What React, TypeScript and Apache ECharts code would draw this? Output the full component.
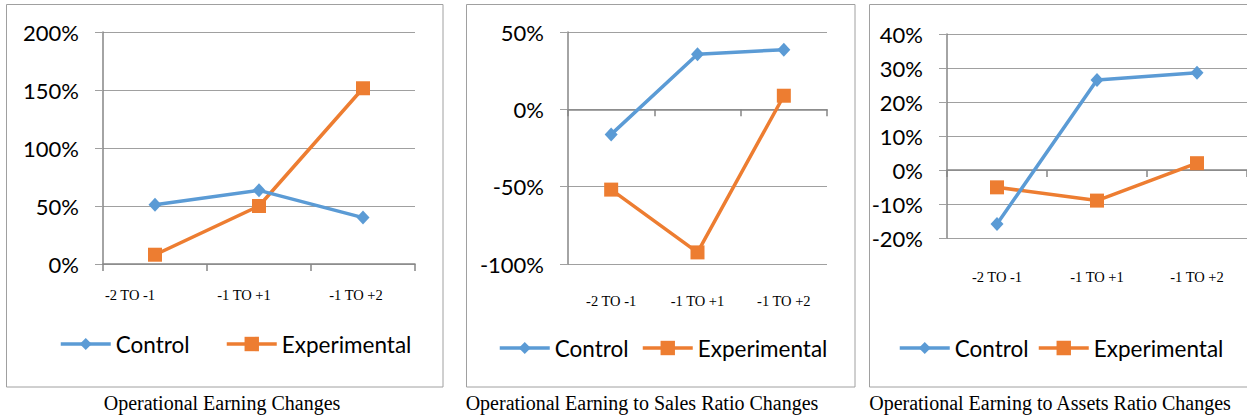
import React, { useEffect, useRef } from "react";
import * as echarts from "echarts";

const categories = ["-2 TO -1", "-1 TO +1", "-1 TO +2"];
const seriesNames = ["Control", "Experimental"];
const earningControl = [0.51, 0.635, 0.40];
const earningExperimental = [0.08, 0.50, 1.515];
const salesControl = [-0.162, 0.356, 0.386];
const salesExperimental = [-0.519, -0.925, 0.088];
const assetsControl = [-0.159, 0.265, 0.286];
const assetsExperimental = [-0.051, -0.09, 0.02];
const captions = [
  "Operational Earning Changes",
  "Operational Earning to Sales Ratio Changes",
  "Operational Earning to Assets Ratio Changes",
];
const yRanges = [
  { min: 0, max: 2, interval: 0.5 },
  { min: -1, max: 0.5, interval: 0.5 },
  { min: -0.2, max: 0.4, interval: 0.1 },
];

const BLUE = "#5b9bd5";
const ORANGE = "#ed7d31";
const GRID_COLOR = "#a0a0a0";
const AXIS_COLOR = "#868686";
const SANS = "Lato, 'Open Sans', sans-serif";
const SERIF = "'Liberation Serif', 'Times New Roman', serif";

export default function App() {
  const ref = useRef<HTMLDivElement>(null);
  useEffect(() => {
    if (!ref.current) return;
    const chart = echarts.init(ref.current, null, { renderer: "svg" });

    const grids = [
      { left: 103, top: 32, width: 312, height: 232 },
      { left: 568, top: 32, width: 259, height: 232 },
      { left: 947, top: 34, width: 300, height: 204 },
    ];
    const labelMargins = [23, 29, 31];
    const data = [
      [earningControl, earningExperimental],
      [salesControl, salesExperimental],
      [assetsControl, assetsExperimental],
    ];
    const legendPos = [
      [[59, 345], [225, 345]],
      [[498, 349], [641, 349]],
      [[898, 349], [1037, 349]],
    ];
    const captionX = [222, 642, 1050];
    const frames = [
      [6.5, 4.5, 436.5, 382.5],
      [466.5, 4.5, 388.5, 382.5],
      [869.5, 4.5, 390, 382.5],
    ];
    const p1Pad = [50, 30, 14];

    const xAxis: any[] = [];
    const yAxis: any[] = [];
    const series: any[] = [];
    const legend: any[] = [];
    const graphic: any[] = [];

    grids.forEach((g, gi) => {
      xAxis.push({
        type: "category",
        gridIndex: gi,
        data: categories,
        position: "bottom",
        axisLine: { show: false, onZero: false },
        axisTick: { show: false },
        axisLabel: {
          interval: 0,
          hideOverlap: false,
          margin: labelMargins[gi],
          color: "#000",
          fontFamily: SERIF,
          fontSize: 14.5,
          formatter:
            gi === 0
              ? (v: string, i: number) => `{c${i}|${v}}`
              : (v: string) => v,
          rich:
            gi === 0
              ? {
                  c0: { padding: [0, p1Pad[0], 0, 0], fontFamily: SERIF, fontSize: 14.5, color: "#000" },
                  c1: { padding: [0, p1Pad[1], 0, 0], fontFamily: SERIF, fontSize: 14.5, color: "#000" },
                  c2: { padding: [0, p1Pad[2], 0, 0], fontFamily: SERIF, fontSize: 14.5, color: "#000" },
                }
              : undefined,
        },
        splitLine: { show: false },
      });
      xAxis.push({
        type: "category",
        gridIndex: gi,
        data: categories,
        position: "bottom",
        axisLine: { show: true, onZero: true, lineStyle: { color: AXIS_COLOR, width: 1.5 } },
        axisTick: { show: true, length: 7, lineStyle: { color: AXIS_COLOR, width: 1.5 } },
        axisLabel: { show: false },
        splitLine: { show: false },
      });
      const r = yRanges[gi];
      yAxis.push({
        type: "value",
        gridIndex: gi,
        min: r.min,
        max: r.max,
        interval: r.interval,
        axisLine: { show: true, lineStyle: { color: AXIS_COLOR, width: 1.5 } },
        axisTick: { show: true, length: 8, lineStyle: { color: GRID_COLOR } },
        axisLabel: {
          margin: 24,
          color: "#000",
          fontFamily: SANS,
          fontSize: 22,
          formatter: (v: number) => `${Math.round(v * 100)}%`,
        },
        splitLine: { show: true, lineStyle: { color: GRID_COLOR, width: 1 } },
      });
      data[gi].forEach((vals, si) => {
        const c = si === 0 ? BLUE : ORANGE;
        series.push({
          type: "line",
          name: seriesNames[si],
          xAxisIndex: gi * 2,
          yAxisIndex: gi,
          data: vals,
          symbol: si === 0 ? "diamond" : "rect",
          symbolSize: si === 0 ? [13, 14] : 14,
          showSymbol: true,
          color: c,
          lineStyle: { color: c, width: 3.5 },
          itemStyle: { color: c },
          z: si === 0 ? 3 : 2,
        });
        const [lx, ly] = legendPos[gi][si];
        const ih = si === 0 ? 15 : 18;
        legend.push({
          data: [seriesNames[si]],
          left: lx,
          top: ly - 12.5,
          padding: 0,
          itemWidth: 50,
          itemHeight: ih,
          itemGap: 0,
          selectedMode: false,
          lineStyle: { width: 3.5 },
          textStyle: { color: "#000", fontFamily: SANS, fontSize: 22.5 },
        });
      });
      const f = frames[gi];
      graphic.push({
        type: "rect",
        shape: { x: f[0], y: f[1], width: f[2], height: f[3] },
        style: { fill: "none", stroke: "#a0a0a0", lineWidth: 1 },
        silent: true,
      });
      graphic.push({
        type: "text",
        x: captionX[gi],
        y: 403,
        style: {
          text: captions[gi],
          fill: "#000",
          font: `20px ${SERIF}`,
          textAlign: "center",
          textVerticalAlign: "middle",
        },
        silent: true,
      });
    });

    chart.setOption({
      animation: false,
      backgroundColor: "#fff",
      grid: grids.map((g) => ({ ...g, containLabel: false })),
      xAxis,
      yAxis,
      series,
      legend,
      graphic,
    });
    return () => chart.dispose();
  }, []);
  return (
    <div
      ref={ref}
      style={{ position: "absolute", left: 0, top: 0, width: 1247, height: 420 }}
    />
  );
}
